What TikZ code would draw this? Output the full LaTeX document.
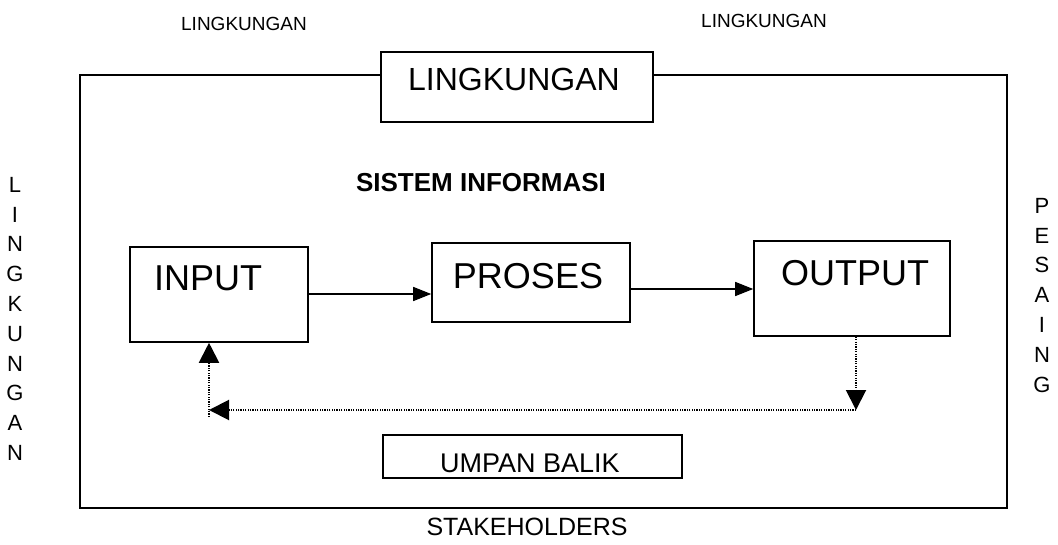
\documentclass[tikz,border=0pt]{standalone}
\usepackage{fontspec}
\setmainfont{Liberation Sans}
\usetikzlibrary{arrows.meta}
\tikzset{
  frameline/.style={line width=1.8pt},
  boxstyle/.style={draw, line width=1.6pt, fill=white, inner sep=0pt},
  bigtext/.style={font=\fontsize{36}{40}\selectfont, inner sep=0pt},
  midtext/.style={font=\fontsize{27}{30}\selectfont, inner sep=0pt},
  smalltext/.style={font=\fontsize{19}{22}\selectfont, inner sep=0pt},
  vtext/.style={font=\fontsize{22}{29.8}\selectfont, inner sep=0pt, align=center},
  solidarrow/.style={line width=1.4pt, -{Triangle[length=18pt,width=14pt]}},
  dotarrow/.style={line width=2pt, dash pattern=on 1.2pt off 1.2pt, -{Triangle[length=20pt,width=20pt]}},
}
\begin{document}
\begin{tikzpicture}[x=1pt,y=-1pt]
\useasboundingbox (0,0) rectangle (1058,545);
% outer frame
\draw[frameline] (80,75) rectangle (1007,508);
% top box
\node[boxstyle, minimum width=272pt, minimum height=70pt] (topbox) at (517,87) {};
\node[bigtext, font=\fontsize{32}{36}\selectfont] (toplabel) at (514,79) {LINGKUNGAN};
% outside labels
\node[smalltext] (ltop) at (244,24) {LINGKUNGAN};
\node[smalltext] (rtop) at (764,21) {LINGKUNGAN};
\node[vtext, anchor=north] (lside) at (15,177) {L\\I\\N\\G\\K\\U\\N\\G\\A\\N};
\node[vtext, anchor=north] (rside) at (1042,198) {P\\E\\S\\A\\I\\N\\G};
\node[midtext, font=\fontsize{25}{28}\selectfont] (stake) at (527,527) {STAKEHOLDERS};
% title
\node[font=\fontsize{26}{30}\selectfont\bfseries, inner sep=0pt] (title) at (481,183) {SISTEM INFORMASI};
% process boxes
\node[boxstyle, minimum width=178pt, minimum height=95pt] (inbox) at (219,294.5) {};
\node[bigtext] (intext) at (208,278) {INPUT};
\node[boxstyle, minimum width=198pt, minimum height=79pt] (probox) at (531,282.5) {};
\node[bigtext] (protext) at (528,276) {PROSES};
\node[boxstyle, minimum width=196pt, minimum height=95pt] (outbox) at (852,288.5) {};
\node[bigtext] (outtext) at (855,273) {OUTPUT};
% umpan balik
\node[boxstyle, minimum width=299pt, minimum height=43pt] (ubbox) at (532.5,456.5) {};
\node[midtext] (ubtext) at (530,463) {UMPAN BALIK};
% arrows
\draw[solidarrow] (inbox.east |- 0,294) -- (probox.west |- 0,294);
\draw[solidarrow] (probox.east |- 0,289) -- (outbox.west |- 0,289);
% feedback
\coordinate (fbr) at (856,410);
\coordinate (fbl) at (209,410);
\draw[dotarrow] (outbox.south -| fbr) -- (fbr);
\draw[dotarrow] (fbr) -- (fbl);
\draw[dotarrow] (209,417) -- (inbox.south -| fbl);
\end{tikzpicture}
\end{document}
